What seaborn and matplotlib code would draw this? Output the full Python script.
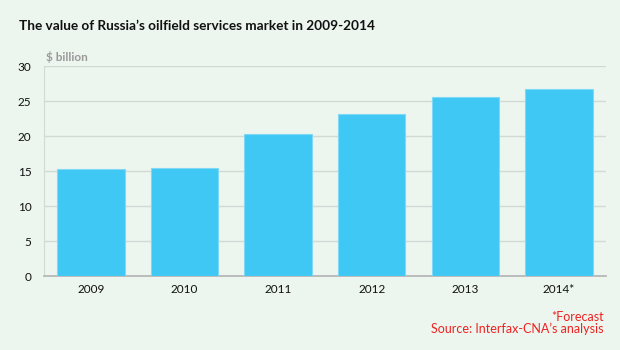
import pandas as pd
import matplotlib
matplotlib.use("Agg")
import matplotlib.pyplot as plt
import seaborn as sns

# Data
years = ["2009", "2010", "2011", "2012", "2013", "2014*"]
values = [15.3, 15.4, 20.3, 23.2, 25.6, 26.7]

df = pd.DataFrame({"Year": years, "Value": values})

bg = "#ECF5EE"
sns.set_style("white")
plt.rcParams['font.family'] = ['Lato', 'DejaVu Sans']

fig = plt.figure(figsize=(6.2, 3.5), dpi=100, facecolor=bg)
ax = fig.add_axes([0.071, 0.211, 0.906, 0.6])
ax.set_facecolor(bg)

sns.barplot(data=df, x="Year", y="Value", color="#40C8F4", width=0.72,
            saturation=1, ax=ax, zorder=3, edgecolor="#7FD8F5", linewidth=0.8)

ax.set_ylim(0, 30)
ax.set_yticks(range(0, 31, 5))
ax.set_xlim(-0.5, len(years) - 0.5)
ax.grid(axis="y", color="#D2DAD6", linewidth=1, zorder=0)
ax.set_axisbelow(True)

for s in ["top", "right"]:
    ax.spines[s].set_visible(False)
ax.spines["left"].set_color("#D2DAD6")
ax.spines["bottom"].set_color("#B0B4B2")
ax.spines["bottom"].set_linewidth(1.2)

ax.tick_params(axis="both", length=0, labelsize=8.5, colors="#111111")
ax.tick_params(axis="y", pad=9)
ax.tick_params(axis="x", pad=6)
ax.set_xlabel("")
ax.set_ylabel("")

fig.text(0.031, 0.925, "The value of Russia\u2019s oilfield services market in 2009-2014",
         fontsize=9.8, fontweight="bold", color="#111111", va="center")
fig.text(0.075, 0.836, "$ billion", fontsize=8.5, fontweight="bold", color="#999999", va="center")
fig.text(0.974, 0.094, "*Forecast", fontsize=9, color="#EE2222", ha="right", va="center")
fig.text(0.974, 0.062, "Source: Interfax-CNA\u2019s analysis", fontsize=9, color="#EE2222",
         ha="right", va="center")

fig.savefig("out.png", dpi=100, facecolor=bg)
